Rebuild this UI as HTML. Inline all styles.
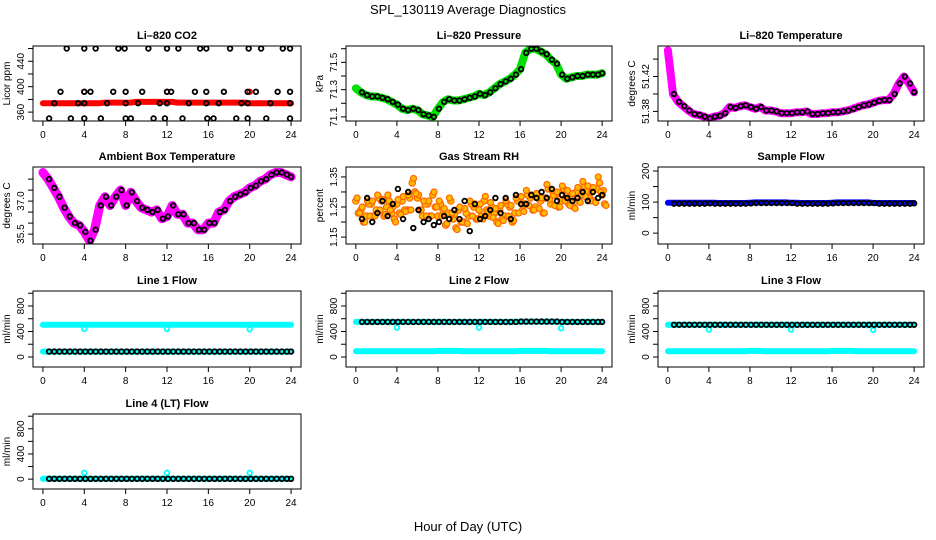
<!DOCTYPE html>
<html><head><meta charset="utf-8">
<style>
body{margin:0;background:#fff;}
svg{display:block;font-family:"Liberation Sans",sans-serif;}
</style></head>
<body>
<svg id="chart" width="936" height="540" viewBox="0 0 936 540">
<text x="468" y="14" text-anchor="middle" font-size="13">SPL_130119  Average Diagnostics</text>
<text x="468" y="531" text-anchor="middle" font-size="13">Hour of Day (UTC)</text>
</svg>
<script>
// ---- data ----
const hours = [];
for (let i = 0; i <= 48; i++) hours.push(i / 2);
const xTicks = [0, 4, 8, 12, 16, 20, 24];

const co2Band = [374,374,374,374,374,374,374,374,374,374,374,374,375,375,375,375,375,375,376,376,376,376,376,376,376,376,375,375,375,375,375,375,375,375,375,375,375,375,375,375,374,374,374,374,374,374,374,374,374];
const co2SpikeTimes = [4, 12, 20];
const co2SpikeVals = [392, 392, 392];
const co2PtTimes = [2.3,4,5.1,7.3,7.9,10.2,12,13.1,15.2,15.8,18.1,19.9,21.1,23.2,23.9, 1.7,4,4.6,6.8,8,9.6,12,12.4,14.7,15.8,17.5,19.8,20.6,22.7,23.9, 1.1,3.4,4,6.2,8,9.2,11.3,12,14.1,15.8,17,19.2,19.8,22,23.9, 0.6,2.7,4,5.6,8,8.5,10.7,11.8,13.5,15.9,16.5,18.7,19.8,21.6,23.9];
const co2PtVals = [460,460,460,460,460,460,460,460,460,460,460,460,460,460,460, 392,392,392,392,392,392,392,392,392,392,392,392,392,392,392, 374,374,374,374,374,374,374,374,374,374,374,374,374,374,374, 350,350,350,350,350,350,350,350,350,350,350,350,350,350,350];

const pressure = [71.31,71.28,71.26,71.25,71.25,71.24,71.23,71.21,71.19,71.16,71.15,71.16,71.15,71.12,71.11,71.10,71.16,71.21,71.23,71.22,71.22,71.23,71.24,71.25,71.27,71.26,71.28,71.31,71.34,71.36,71.38,71.41,71.45,71.57,71.60,71.60,71.58,71.56,71.52,71.49,71.41,71.38,71.39,71.40,71.40,71.41,71.41,71.41,71.42];

const liTemp = [51.45,51.40,51.391,51.386,51.381,51.377,51.376,51.374,51.372,51.374,51.375,51.378,51.385,51.384,51.386,51.387,51.385,51.383,51.385,51.381,51.381,51.380,51.378,51.378,51.378,51.379,51.379,51.380,51.377,51.377,51.378,51.378,51.379,51.379,51.380,51.381,51.383,51.385,51.387,51.388,51.390,51.392,51.393,51.393,51.400,51.412,51.420,51.412,51.402];

const ambient = [38.3,38.0,37.6,37.2,36.7,36.3,36.0,35.9,35.6,35.2,35.7,36.8,37.2,36.8,37.2,37.5,36.8,37.4,37.0,36.7,36.6,36.5,36.6,36.2,36.3,36.8,36.4,36.4,36.0,36.0,35.7,35.7,36.0,36.0,36.5,36.6,37.0,37.2,37.3,37.4,37.6,37.7,37.9,38.0,38.2,38.3,38.3,38.2,38.1];

const rhA = [1.27,1.24,1.22,1.26,1.24,1.27,1.25,1.23,1.26,1.27,1.24,1.33,1.28,1.22,1.26,1.29,1.22,1.24,1.23,1.21,1.24,1.20,1.22,1.25,1.24,1.27,1.22,1.23,1.24,1.22,1.25,1.23,1.27,1.26,1.28,1.25,1.27,1.28,1.26,1.29,1.27,1.29,1.28,1.30,1.29,1.30,1.30,1.31,1.29];
const rhB = [1.23,1.20,1.26,1.22,1.28,1.22,1.27,1.21,1.23,1.24,1.28,1.30,1.24,1.26,1.22,1.25,1.26,1.19,1.27,1.18,1.20,1.23,1.26,1.21,1.22,1.24,1.25,1.20,1.21,1.26,1.20,1.27,1.24,1.29,1.24,1.28,1.23,1.31,1.29,1.25,1.31,1.26,1.25,1.27,1.32,1.28,1.27,1.33,1.26];
const rhPts = [1.20,1.21,1.28,1.20,1.23,1.27,1.22,1.26,1.31,1.21,1.30,1.18,1.24,1.20,1.21,1.19,1.20,1.22,1.21,1.24,1.21,1.27,1.17,1.26,1.21,1.22,1.24,1.28,1.23,1.28,1.21,1.29,1.26,1.26,1.29,1.28,1.30,1.28,1.31,1.27,1.29,1.28,1.27,1.28,1.30,1.27,1.30,1.28,1.29];

const sampleFlow = [98,98,98,98,98,98,98,98,98,98,97,97,97,97,97,97,98,99,99,99,99,99,99,99,98,98,97,97,97,97,97,97,98,99,99,99,99,99,99,99,97,97,97,97,97,97,97,97,97];
const samplePts = [95,95,95,95,95,95,95,95,96,95,95,95,95,95,95,95,96,97,97,97,97,97,97,97,97,95,95,95,95,95,95,95,96,97,97,97,97,97,97,97,97,95,95,95,95,95,95,95,96];

const line1Hi = [505,505,505,505,505,505,505,505,505,505,505,505,505,505,505,505,505,505,505,505,505,505,505,505,505,505,505,505,505,505,505,505,505,505,505,505,505,505,505,505,505,505,505,505,505,505,505,505,505];
const line1Lo = [85,85,85,85,85,85,85,85,85,85,85,85,85,85,85,85,85,85,85,85,85,85,85,85,85,85,85,85,85,85,85,85,85,85,85,85,85,85,85,85,85,85,85,85,85,85,85,85,85];
const line1Dips = [440, 440, 435];
const line2Hi = [550,550,550,550,550,550,550,550,550,550,550,550,550,550,550,550,550,550,550,550,550,550,550,550,550,550,550,550,550,550,550,550,555,555,555,555,555,555,555,555,550,550,550,550,550,550,550,550,550];
const line2Lo = [90,90,90,90,90,90,90,90,90,90,90,90,90,90,90,90,95,95,95,95,95,90,90,90,90,90,90,90,90,90,90,90,95,95,95,95,95,95,90,90,90,90,90,90,90,90,90,90,90];
const line2Dips = [460, 460, 450];
const line3Hi = [505,505,505,505,505,505,505,505,505,505,505,505,505,505,505,505,505,505,505,505,505,505,505,505,505,505,505,505,505,505,505,505,505,505,505,505,505,505,505,505,505,505,505,505,505,505,505,505,505];
const line3Lo = [90,90,90,90,90,90,90,90,90,90,90,90,90,90,90,90,95,95,95,90,90,90,90,90,90,90,90,90,90,90,90,90,95,95,95,95,95,90,90,90,90,90,90,90,90,90,90,90,90];
const line3Dips = [430, 430, 425];
const line4Lo = [5,5,5,5,5,5,5,5,5,5,5,5,5,5,5,5,5,5,5,5,5,5,5,5,5,5,5,5,5,5,5,5,5,5,5,5,5,5,5,5,5,5,5,5,5,5,5,5,5];
const line4Spikes = [100, 100, 100];
const dipTimes = [4, 12, 20];

// ---- helpers ----
const svg = document.getElementById('chart');
const NS = 'http://www.w3.org/2000/svg';
function mk(tag, attrs, parent) {
  const e = document.createElementNS(NS, tag);
  for (const k in attrs) e.setAttribute(k, attrs[k]);
  (parent || svg).appendChild(e);
  return e;
}
const cols = [[33, 301], [346, 612], [658, 924]];
const rows = [[46, 121], [167, 244], [291, 367], [414, 489]];

function panel(name, title, col, row, ymin, ymax, yTicks, yLabels, ylab) {
  const [x0, x1] = cols[col], [y0, y1] = rows[row];
  const g = mk('g', {});
  
  
  const w = x1 - x0, h = y1 - y0;
  const xs = v => x0 + w * (v + 0.96) / 25.92;
  const ys = v => y1 - h * (v - ymin) / (ymax - ymin);
  const plot = mk('g', {}, g);
  
  
  const box = mk('rect', {x: x0, y: y0, width: w, height: h, fill: 'none', stroke: '#000', 'stroke-width': 1}, g);
  
  
  const t = mk('text', {x: (x0 + x1) / 2, y: y0 - 7, 'text-anchor': 'middle', 'font-size': 11, 'font-weight': 'bold'}, g);
  t.textContent = title;
  
  
  const xa = mk('g', {}, g);
  
  
  mk('line', {x1: xs(0), x2: xs(24), y1: y1, y2: y1, stroke: '#000'}, xa);
  xTicks.forEach(v => {
    mk('line', {x1: xs(v), x2: xs(v), y1: y1, y2: y1 + 5, stroke: '#000'}, xa);
    const l = mk('text', {x: xs(v), y: y1 + 17, 'text-anchor': 'middle', 'font-size': 10}, xa);
    l.textContent = v;
    
    
  });
  const ya = mk('g', {}, g);
  
  
  mk('line', {x1: x0, x2: x0, y1: ys(yTicks[0]), y2: ys(yTicks[yTicks.length - 1]), stroke: '#000'}, ya);
  yTicks.forEach((v, i) => {
    mk('line', {x1: x0 - 5, x2: x0, y1: ys(v), y2: ys(v), stroke: '#000'}, ya);
    if (yLabels[i] !== '') {
      const l = mk('text', {x: x0 - 9, y: ys(v), 'text-anchor': 'middle', 'font-size': 10, transform: `rotate(-90 ${x0 - 9} ${ys(v)})`}, ya);
      l.textContent = yLabels[i];
      
      
    }
  });
  const yt = mk('text', {x: x0 - 23, y: (y0 + y1) / 2, 'text-anchor': 'middle', 'font-size': 10, transform: `rotate(-90 ${x0 - 23} ${(y0 + y1) / 2})`}, g);
  yt.textContent = ylab;
  
  
  const clip = 'clip-' + name;
  const cp = mk('clipPath', {id: clip}, g);
  mk('rect', {x: x0, y: y0, width: w, height: h}, cp);
  plot.setAttribute('clip-path', `url(#${clip})`);
  return {xs, ys, plot};
}
function band(p, times, vals, color, width, name) {
  const d = times.map((t, i) => (i ? 'L' : 'M') + p.xs(t).toFixed(1) + ' ' + p.ys(vals[i]).toFixed(1)).join(' ');
  const e = mk('path', {d: d, fill: 'none', stroke: color, 'stroke-width': width, 'stroke-linejoin': 'round', 'stroke-linecap': 'round'}, p.plot);
  
  
}
function pts(p, times, vals, color, r, sw, name, fill) {
  const g = mk('g', {}, p.plot);
  
  
  times.forEach((t, i) => {
    mk('circle', {cx: p.xs(t), cy: p.ys(vals[i]), r: r, fill: fill || 'none', stroke: color, 'stroke-width': sw}, g);
  });
}
const hoursOff = hours.map(h => Math.min(24, h + 0.1)).slice(1);

let p = panel('co2', 'Li\u2013820 CO2', 0, 0, 346, 464, [360,380,400,420,440,460], ['360','','400','','440',''], 'Licor ppm');
band(p, hours, co2Band, '#f00', 6, 'co2-band');
pts(p, co2SpikeTimes, co2SpikeVals, '#f00', 2.3, 1.8, 'co2-spikes');
pts(p, co2PtTimes, co2PtVals, '#000', 2.3, 1.8, 'co2-points');

p = panel('pressure', 'Li\u2013820 Pressure', 1, 0, 71.07, 71.62, [71.1,71.2,71.3,71.4,71.5,71.6], ['71.1','','71.3','','71.5',''], 'kPa');
band(p, hours, pressure, '#0d0', 8, 'pressure-band');
pts(p, hoursOff, pressure.slice(1), '#000', 2.3, 1.8, 'pressure-points');

p = panel('li-temp', 'Li\u2013820 Temperature', 2, 0, 51.369, 51.455, [51.38,51.40,51.42,51.44], ['51.38','','51.42',''], 'degrees C');
band(p, hours, liTemp, '#f0f', 8, 'li-temp-band');
pts(p, hoursOff, liTemp.slice(1), '#000', 2.3, 1.8, 'li-temp-points');

p = panel('ambient', 'Ambient Box Temperature', 0, 1, 35.05, 38.55, [35.5,36.0,36.5,37.0,37.5,38.0], ['35.5','','','37.0','',''], 'degrees C');
band(p, hours, ambient, '#f0f', 9, 'ambient-band');
pts(p, hoursOff, ambient.slice(1), '#000', 2.3, 1.8, 'ambient-points');

p = panel('rh', 'Gas Stream RH', 1, 1, 1.127, 1.383, [1.15,1.20,1.25,1.30,1.35], ['1.15','','1.25','','1.35'], 'percent');
pts(p, hours, rhA, '#f60', 3.2, 1.2, 'rh-series-a', '#fb0');
pts(p, hours.map(h => h + 0.25), rhB, '#f60', 3.2, 1.2, 'rh-series-b', '#fb0');
pts(p, hours.map(h => h + 0.12), rhA.map((v, i) => (v + rhB[i]) / 2 + 0.03), '#f60', 3, 1.2, 'rh-series-c', '#fb0');
pts(p, hours.map(h => h + 0.37), rhA.map((v, i) => (v + rhB[i]) / 2 - 0.02), '#f60', 3, 1.2, 'rh-series-d', '#fb0');
pts(p, hoursOff, rhPts.slice(1), '#000', 2.3, 1.8, 'rh-points');

p = panel('sample-flow', 'Sample Flow', 2, 1, -35, 213, [0,50,100,150,200], ['0','','100','','200'], 'ml/min');
band(p, hours, sampleFlow, '#00f', 6, 'sample-flow-band');
pts(p, hoursOff, samplePts.slice(1), '#000', 2.3, 1.8, 'sample-flow-points');

const flowTicks = [0,200,400,600,800,1000], flowLabels = ['0','','400','','800',''];
p = panel('line1', 'Line 1 Flow', 0, 2, -157, 1035, flowTicks, flowLabels, 'ml/min');
band(p, hours, line1Hi, '#0ff', 6, 'line1-high-band');
band(p, hours, line1Lo, '#0ff', 6, 'line1-low-band');
pts(p, dipTimes, line1Dips, '#0ff', 2.3, 1.8, 'line1-dips');
pts(p, hoursOff, line1Lo.slice(1), '#000', 2.3, 1.8, 'line1-points');
p = panel('line2', 'Line 2 Flow', 1, 2, -157, 1035, flowTicks, flowLabels, 'ml/min');
band(p, hours, line2Hi, '#0ff', 6, 'line2-high-band');
band(p, hours, line2Lo, '#0ff', 6, 'line2-low-band');
pts(p, dipTimes, line2Dips, '#0ff', 2.3, 1.8, 'line2-dips');
pts(p, hoursOff, line2Hi.slice(1), '#000', 2.3, 1.8, 'line2-points');
p = panel('line3', 'Line 3 Flow', 2, 2, -157, 1035, flowTicks, flowLabels, 'ml/min');
band(p, hours, line3Hi, '#0ff', 6, 'line3-high-band');
band(p, hours, line3Lo, '#0ff', 6, 'line3-low-band');
pts(p, dipTimes, line3Dips, '#0ff', 2.3, 1.8, 'line3-dips');
pts(p, hoursOff, line3Hi.slice(1), '#000', 2.3, 1.8, 'line3-points');
p = panel('line4', 'Line 4 (LT) Flow', 0, 3, -157, 1035, flowTicks, flowLabels, 'ml/min');
band(p, hours, line4Lo, '#0ff', 6, 'line4-band');
pts(p, dipTimes, line4Spikes, '#0ff', 2.3, 1.8, 'line4-spikes');
pts(p, hoursOff, line4Lo.slice(1), '#000', 2.3, 1.8, 'line4-points');
</script>
</body></html>
